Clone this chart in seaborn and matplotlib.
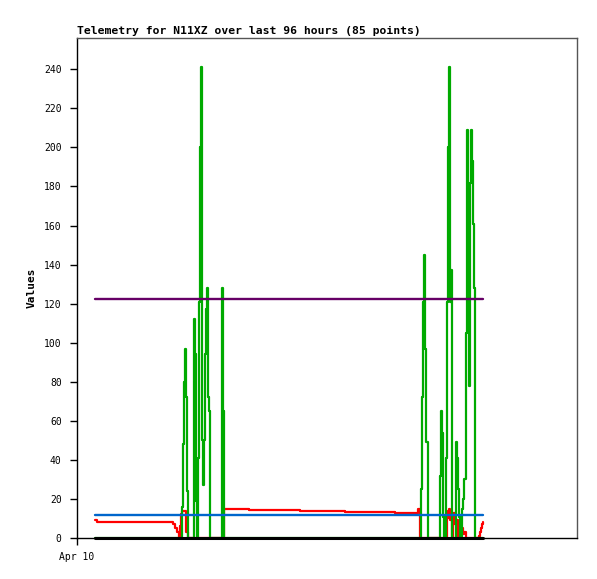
import matplotlib
matplotlib.use("Agg")
import matplotlib.pyplot as plt
import matplotlib.dates as mdates
import pandas as pd
import seaborn as sns

# minutes after the first sample (first sample at Apr 10 04:30)
offset_min = [
    0, 30, 1170, 1200, 1230, 1260, 1275, 1290, 1305, 1320, 1335, 1350, 1365,
    1380, 1395, 1485, 1500, 1515, 1530, 1545, 1560, 1575, 1590, 1605, 1620,
    1635, 1650, 1665, 1680, 1695, 1710, 1725, 1905, 1920, 1935, 2310, 3075,
    3750, 4500,
    4845, 4875, 4890, 4905, 4920, 4935, 4950, 4965, 4995, 5175, 5190, 5205,
    5220, 5235, 5265, 5280, 5295, 5310, 5325, 5340, 5355, 5370, 5400, 5415,
    5430, 5445, 5460, 5475, 5505, 5520, 5535, 5565, 5580, 5595, 5610, 5625,
    5640, 5655, 5670, 5685, 5700, 5760, 5775, 5790, 5805, 5820,
]

green_vals = [
    0, 0, 0, 0, 0, 0, 0, 0, 16, 48, 80, 97, 72,
    24, 0, 112, 94, 19, 0, 41, 121, 200, 241, 50, 27,
    50, 94, 117, 128, 72, 65, 0, 128, 65, 0, 0, 0,
    0, 0,
    0, 0, 25, 72, 121, 145, 97, 49, 0, 32, 65, 54,
    11, 0, 41, 121, 200, 241, 121, 137, 0, 0, 0, 49,
    41, 25, 11, 0, 15, 20, 30, 105, 209, 130, 78, 182,
    209, 193, 161, 128, 0, 0, 0, 0, 0, 0,
]

red_vals = [
    9, 8, 7, 5, 3, 0.5, 6, 12.5, 14, 14, 14, 14, 3,
    3, 0, 0, 0, 0, 0, 0, 0, 0, 0, 0, 0,
    0, 0, 0, 0, 0, 0, 0, 0, 0, 15, 14.5, 14,
    13.5, 13,
    15, 0, 0, 0, 0, 0, 0, 0, 0, 0, 0, 0,
    0, 0, 0, 10, 14, 15, 9, 9, 0, 13, 7, 6,
    9, 0, 0, 5, 5, 2, 3, 0, 0, 0, 0, 0,
    0, 0, 0, 0, 0, 1, 3, 5, 7, 8,
]

blue_level = 12
purple_level = 122.5
black_level = 0

start = pd.Timestamp("2024-04-10 04:30")
times = start + pd.to_timedelta(offset_min, unit="min")

sns.set_style("white")
plt.rcParams["font.family"] = ["DejaVu Sans Mono"]
plt.rcParams["text.color"] = "black"
plt.rcParams["axes.labelcolor"] = "black"

fig = plt.figure(figsize=(5.97, 5.79), dpi=100)
ax = fig.add_axes([77 / 597, 41 / 579, 500 / 597, 500 / 579])

sns.lineplot(x=times, y=red_vals, color="#ff0000", lw=1.6, drawstyle="steps-post", ax=ax)
sns.lineplot(x=times, y=green_vals, color="#00aa00", lw=1.6, drawstyle="steps-post", ax=ax)
sns.lineplot(x=times, y=[blue_level] * len(times), color="#0066cc", lw=1.7,
             drawstyle="steps-post", ax=ax)
sns.lineplot(x=times, y=[purple_level] * len(times), color="#660066", lw=1.7,
             drawstyle="steps-post", ax=ax)
sns.lineplot(x=times, y=[black_level] * len(times), color="black", lw=2.2,
             drawstyle="steps-post", clip_on=False, zorder=5, ax=ax)

ax.set_xlim(pd.Timestamp("2024-04-10 00:00"), pd.Timestamp("2024-04-15 05:00"))
ax.set_ylim(0, 256)
ax.set_yticks(range(0, 241, 20))
ax.set_xticks([mdates.date2num(pd.Timestamp("2024-04-10"))])
ax.xaxis.set_major_formatter(mdates.DateFormatter("%b %d"))

ax.tick_params(axis="both", direction="out", length=5, width=1, color="black",
               labelsize=7, labelcolor="black", left=True, bottom=True)
ax.tick_params(axis="y", pad=6)
ax.tick_params(axis="x", pad=5)

for side in ["left", "bottom"]:
    ax.spines[side].set_color("black")
    ax.spines[side].set_linewidth(1)
for side in ["top", "right"]:
    ax.spines[side].set_color("#555555")
    ax.spines[side].set_linewidth(1)

ax.set_title("Telemetry for N11XZ over last 96 hours (85 points)", loc="left",
             fontsize=8.2, fontweight="bold", color="black", pad=3)
ax.set_ylabel("Values", fontsize=8, fontweight="bold", labelpad=5)
ax.set_xlabel("")

fig.savefig("out.png", dpi=100)
